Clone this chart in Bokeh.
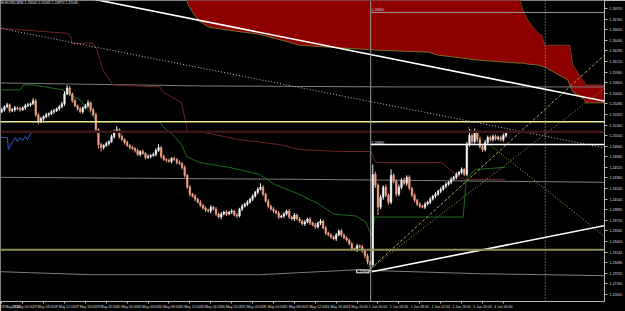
from bokeh.plotting import figure
from bokeh.models import Range1d, FixedTicker, Label, Span, PrintfTickFormatter, ColumnDataSource
from bokeh.embed import file_html
from bokeh.resources import INLINE

symbol = "EURUSD,M30"
first_open = 1.25360
closes = [
    1.25390, 1.25435, 1.25465, 1.25375, 1.25390, 1.25420, 1.25405, 1.25390, 1.25420, 1.25450,
    1.25465, 1.25480, 1.25525, 1.25315, 1.25210, 1.25255, 1.25285, 1.25315, 1.25330, 1.25360,
    1.25375, 1.25405, 1.25435, 1.25480, 1.25630, 1.25720, 1.25630, 1.25525, 1.25450, 1.25405,
    1.25360, 1.25420, 1.25450, 1.25495, 1.25390, 1.25315, 1.25090, 1.24865, 1.24820, 1.24850,
    1.24880, 1.24910, 1.24985, 1.25060, 1.25090, 1.24985, 1.24940, 1.24895, 1.24850, 1.24820,
    1.24805, 1.24775, 1.24715, 1.24760, 1.24730, 1.24670, 1.24685, 1.24700, 1.24715, 1.24775,
    1.24820, 1.24685, 1.24640, 1.24625, 1.24610, 1.24655, 1.24640, 1.24595, 1.24580, 1.24520,
    1.24400, 1.24220, 1.24115, 1.24085, 1.24040, 1.23995, 1.23950, 1.23905, 1.23875, 1.23860,
    1.23920, 1.23890, 1.23815, 1.23770, 1.23815, 1.23845, 1.23815, 1.23845, 1.23860, 1.23800,
    1.23785, 1.23890, 1.23935, 1.23965, 1.23995, 1.24040, 1.24085, 1.24145, 1.24190, 1.24220,
    1.24115, 1.24010, 1.23935, 1.23890, 1.23860, 1.23830, 1.23770, 1.23785, 1.23815, 1.23860,
    1.23770, 1.23740, 1.23800, 1.23740, 1.23710, 1.23665, 1.23695, 1.23740, 1.23680, 1.23650,
    1.23620, 1.23680, 1.23710, 1.23605, 1.23530, 1.23500, 1.23470, 1.23440, 1.23500, 1.23560,
    1.23500, 1.23455, 1.23425, 1.23365, 1.23290, 1.23275, 1.23335, 1.23320, 1.23260, 1.23185,
    1.23095, 1.23050, 1.24415, 1.24250, 1.23920, 1.24070, 1.24220, 1.24100, 1.23995, 1.24400,
    1.24310, 1.24115, 1.24220, 1.24325, 1.24280, 1.24370, 1.24205, 1.24100, 1.24025, 1.23965,
    1.23935, 1.23920, 1.23965, 1.23995, 1.24040, 1.24085, 1.24115, 1.24160, 1.24190, 1.24235,
    1.24265, 1.24295, 1.24340, 1.24370, 1.24415, 1.24445, 1.24490, 1.24415, 1.24865, 1.25000,
    1.24910, 1.25045, 1.24940, 1.24835, 1.24790, 1.24895, 1.24970, 1.24940, 1.24985, 1.24955,
    1.24970, 1.24940, 1.25000, 1.25045,
]
wick_up_pips = [
    3, 2, 3, 2, 3, 3, 2, 3, 2, 3,
    3, 2, 4, 3, 2, 3, 2, 3, 2, 3,
    3, 2, 3, 3, 4, 4, 3, 2, 3, 2,
    3, 2, 3, 4, 2, 3, 3, 2, 3, 2,
    3, 2, 3, 3, 5, 2, 3, 2, 3, 2,
    3, 2, 3, 2, 3, 2, 3, 2, 3, 3,
    5, 2, 3, 2, 3, 2, 3, 2, 3, 2,
    3, 2, 3, 2, 3, 2, 3, 2, 3, 2,
    3, 2, 3, 2, 3, 2, 3, 2, 3, 2,
    3, 2, 3, 2, 3, 2, 3, 2, 3, 6,
    3, 2, 3, 2, 3, 2, 3, 2, 3, 2,
    3, 2, 3, 2, 3, 2, 3, 2, 3, 2,
    3, 2, 3, 2, 3, 2, 3, 2, 3, 2,
    3, 2, 3, 2, 3, 2, 3, 2, 3, 2,
    3, 2, 15, 4, 3, 4, 3, 4, 3, 9,
    3, 3, 4, 3, 4, 3, 3, 2, 3, 2,
    3, 2, 3, 2, 3, 2, 3, 2, 3, 2,
    3, 2, 3, 2, 3, 2, 3, 2, 4, 10,
    3, 6, 3, 4, 3, 4, 3, 3, 3, 3,
    3, 3, 3, 2,
]
wick_down_pips = [
    2, 3, 2, 3, 2, 3, 2, 3, 2, 3,
    2, 3, 2, 3, 4, 2, 3, 2, 3, 2,
    3, 2, 3, 2, 3, 2, 3, 3, 2, 3,
    2, 3, 2, 3, 3, 2, 3, 6, 6, 3,
    2, 3, 2, 3, 2, 3, 2, 3, 2, 3,
    2, 3, 2, 3, 2, 3, 2, 3, 2, 3,
    2, 3, 2, 3, 2, 3, 2, 3, 2, 3,
    3, 2, 3, 2, 3, 2, 3, 2, 3, 2,
    3, 2, 3, 2, 3, 2, 3, 2, 3, 2,
    3, 2, 3, 2, 3, 2, 3, 2, 3, 2,
    3, 2, 3, 2, 3, 2, 3, 2, 3, 2,
    3, 2, 3, 2, 3, 2, 3, 2, 3, 2,
    3, 2, 3, 2, 3, 2, 3, 2, 3, 2,
    3, 2, 3, 2, 3, 2, 3, 2, 3, 4,
    4, 10, 3, 4, 12, 3, 4, 3, 4, 3,
    3, 4, 3, 3, 3, 4, 3, 3, 3, 3,
    3, 2, 3, 2, 3, 2, 3, 2, 3, 2,
    3, 2, 3, 2, 3, 2, 3, 3, 3, 3,
    4, 3, 4, 3, 4, 3, 3, 3, 3, 3,
    3, 3, 3, 3,
]

time_tick_bars = [0, 8, 16, 24, 32, 40, 48, 56, 64, 72, 80, 88, 96, 104, 112, 120,
                  128, 136, 144, 152, 160, 168, 176, 184, 192]
time_tick_labels = ["29 May 2012", "29 May 04:00", "29 May 08:00", "29 May 12:00", "29 May 16:00",
                    "29 May 20:00", "30 May 00:00", "30 May 04:00", "30 May 08:00", "30 May 12:00",
                    "30 May 16:00", "30 May 20:00", "31 May 00:00", "31 May 04:00", "31 May 08:00",
                    "31 May 12:00", "31 May 16:00", "31 May 20:00", "1 Jun 00:00", "1 Jun 04:00",
                    "1 Jun 08:00", "1 Jun 12:00", "1 Jun 16:00", "1 Jun 20:00", "4 Jun 00:00"]
price_ticks = [1.26920, 1.26760, 1.26600, 1.26440, 1.26280, 1.26120, 1.25960, 1.25800,
               1.25640, 1.25480, 1.25320, 1.25160, 1.25000, 1.24840, 1.24680, 1.24520,
               1.24360, 1.24200, 1.24040, 1.23880, 1.23720, 1.23560, 1.23400, 1.23240,
               1.23080, 1.22920, 1.22760, 1.22600]

# Ichimoku cloud (shifted forward)
cloud_x = [70.4, 71.1, 72.6, 74.2, 75.7, 79.5, 87.1, 98.6, 110.0, 113.8, 125.2, 144.3, 163.3, 167.1,
           182.4, 197.6, 199.5, 201.4, 205.2, 206.7, 207.9, 216.7, 217.4, 218.6, 223.1, 223.5, 230.7]
cloud_top = [1.27160, 1.27160, 1.27160, 1.27160, 1.27160, 1.27160, 1.27160, 1.27160, 1.27160,
             1.27160, 1.27160, 1.27160, 1.27160, 1.27160, 1.27160, 1.27160, 1.26890, 1.26740,
             1.26545, 1.26515, 1.26365, 1.26365, 1.26365, 1.26065, 1.25795, 1.25765, 1.25765]
cloud_bottom = [1.27160, 1.26995, 1.26890, 1.26800, 1.26725, 1.26635, 1.26590, 1.26530, 1.26410,
                1.26365, 1.26335, 1.26290, 1.26260, 1.26215, 1.26140, 1.26095, 1.26095, 1.26080,
                1.26065, 1.26050, 1.26035, 1.25840, 1.25765, 1.25660, 1.25540, 1.25495, 1.25495]

kijun_x = [-0.5, 25.0, 26.2, 26.9, 34.9, 36.5, 37.6, 38.7, 42.6, 60.5, 61.6, 68.8, 71.1, 75.7,
           90.9, 106.2, 113.8, 129.0, 141.2, 143.1, 168.3, 174.7, 177.4, 185.0, 192.7]
kijun_y = [1.26620, 1.26545, 1.26515, 1.26395, 1.26395, 1.26290, 1.26140, 1.25990, 1.25765,
           1.25735, 1.25660, 1.25495, 1.25060, 1.25060, 1.24940, 1.24865, 1.24790, 1.24760,
           1.24760, 1.24595, 1.24595, 1.24385, 1.24340, 1.24340, 1.24340]

tenkan_x = [-0.5, 7.1, 8.3, 12.1, 23.5, 24.3, 30.0, 36.5, 60.5, 61.6, 65.4, 68.8, 70.7, 75.7,
            87.1, 98.6, 104.3, 113.8, 121.4, 127.1, 135.5, 139.3, 141.6, 142.7, 176.6, 177.8,
            181.2, 192.7]
tenkan_y = [1.25690, 1.25690, 1.25765, 1.25765, 1.25690, 1.25645, 1.25540, 1.25210, 1.25210,
            1.25135, 1.25015, 1.24865, 1.24685, 1.24595, 1.24520, 1.24415, 1.24265, 1.24115,
            1.23965, 1.23815, 1.23785, 1.23695, 1.23485, 1.23770, 1.23770, 1.24340, 1.24490,
            1.24520]

chikou_x = [-0.5, 2.2, 2.5, 4.1, 5.2, 6.0, 7.1, 7.9, 9.0, 9.8, 10.9, 11.7]
chikou_y = [1.24970, 1.24970, 1.24790, 1.24910, 1.24970, 1.24910, 1.24970, 1.24925, 1.24985,
            1.24940, 1.25015, 1.25060]

bb_upper_x = [-0.5, 75.7, 151.9, 230.7]
bb_upper_y = [1.25795, 1.25750, 1.25735, 1.25735]
bb_mid_x = [-0.5, 113.8, 230.7]
bb_mid_y = [1.24370, 1.24340, 1.24295]
bb_lower_x = [-0.5, 10.9, 33.8, 98.6, 113.8, 136.7, 144.3, 182.4, 230.7]
bb_lower_y = [1.22945, 1.22930, 1.22900, 1.22900, 1.22930, 1.22975, 1.22960, 1.22915, 1.22885]

level_pale = 1.25210
level_maroon = 1.25060
level_olive = 1.23275
cross_bar = 141.2
cross_price_top = 1.26860
cross_price_mid = 1.24865
vline_dotted_bar = 208.0
cross_time_label = "31 May 22:30"

trend_white_a = ([33.8, 231.9], [1.27070, 1.25510])
trend_white_b = ([141.6, 231.9], [1.22945, 1.23650])
trend_dotted = ([-0.5, 231.9], [1.26620, 1.24805])
fan_a = ([141.2, 231.9], [1.22990, 1.26260])
fan_b = ([141.2, 231.9], [1.22990, 1.25750])
fan_c = ([178.6, 231.9], [1.25120, 1.23440])

# ---------------------------------------------------------------
n = len(closes)
bars = list(range(n))
opens = [first_open] + closes[:-1]
highs = [max(o, c) + u * 0.0001 for o, c, u in zip(opens, closes, wick_up_pips)]
lows = [min(o, c) - d * 0.0001 for o, c, d in zip(opens, closes, wick_down_pips)]
bull = "#f2f2f2"
bear = "#f0a088"
colors = [bull if c >= o else bear for o, c in zip(opens, closes)]
src = ColumnDataSource(dict(x=bars, o=opens, c=closes, h=highs, l=lows, col=colors))

p = figure(width=625, height=311, x_range=Range1d(-0.495, 230.7), y_range=Range1d(1.22495, 1.27040),
           y_axis_location="right", output_backend="svg", toolbar_location=None,
           background_fill_color="black", border_fill_color="black", outline_line_color=None,
           min_border=0)
p.xgrid.visible = False
p.ygrid.visible = False

axis_col = "#b8b8b8"
for ax in (p.xaxis[0], p.yaxis[0]):
    ax.axis_line_color = axis_col
    ax.major_tick_line_color = axis_col
    ax.minor_tick_line_color = None
    ax.major_tick_in = 0
    ax.major_label_text_font_size = "3.5px"
    ax.major_label_text_color = "#dcdcdc"
    ax.major_label_text_font = "Liberation Sans"
p.xaxis.ticker = FixedTicker(ticks=time_tick_bars)
p.xaxis.major_label_overrides = {b: t for b, t in zip(time_tick_bars, time_tick_labels)}
p.xaxis.major_label_text_align = "left"
p.xaxis.major_tick_out = 2
p.xaxis.major_label_standoff = 1
p.yaxis.ticker = FixedTicker(ticks=price_ticks)
p.yaxis.formatter = PrintfTickFormatter(format="%.5f")
p.yaxis.major_tick_out = 3
p.yaxis.major_label_standoff = 2

# cloud
p.varea(x=cloud_x, y1=cloud_bottom, y2=cloud_top, fill_color="#8e0000")
p.line(cloud_x, cloud_bottom, line_color="#7a6a28", line_width=1)
p.line(cloud_x, cloud_top, line_color="#6a3a20", line_width=1)

# bands
for xs, ys in ((bb_upper_x, bb_upper_y), (bb_mid_x, bb_mid_y), (bb_lower_x, bb_lower_y)):
    p.line(xs, ys, line_color="#7c7c7c", line_width=1)

# levels
p.add_layout(Span(location=level_maroon, dimension="width", line_color="#3e1519", line_width=2.5))
p.add_layout(Span(location=level_olive, dimension="width", line_color="#8e8e52", line_width=2))
p.add_layout(Span(location=level_pale, dimension="width", line_color="#ecec9c", line_width=1.5))

# ichimoku lines
p.line(kijun_x, kijun_y, line_color="#6e2226", line_width=1)
p.line(tenkan_x, tenkan_y, line_color="#1f6a1f", line_width=1)
p.line(chikou_x, chikou_y, line_color="#3a58c8", line_width=1)

# vertical lines
p.add_layout(Span(location=cross_bar, dimension="height", line_color="#9a9a9a", line_width=1))
p.add_layout(Span(location=vline_dotted_bar, dimension="height", line_color="#b8b890",
                  line_width=1, line_dash="1 2"))
p.segment(x0=cross_bar, x1=231.9, y0=cross_price_top, y1=cross_price_top, line_color="#9a9a9a", line_width=1)

# candles
p.segment(x0="x", x1="x", y0="l", y1="h", line_color="col", line_width=1, source=src)
p.vbar(x="x", width=0.62, bottom="o", top="c", fill_color="col", line_color="col", line_width=0.5, source=src)

# trend lines
p.line(*trend_dotted, line_color="#bdbdbd", line_width=1, line_dash="1 2")
p.line(*fan_a, line_color="#a8a858", line_width=1, line_dash="3 2")
p.line(*fan_b, line_color="#a8a858", line_width=1, line_dash="1 2")
p.line(*fan_c, line_color="#b0b060", line_width=1, line_dash="1 2")
p.line(*trend_white_a, line_color="white", line_width=1.6)
p.line(*trend_white_b, line_color="white", line_width=1.6)
p.segment(x0=cross_bar, x1=231.9, y0=cross_price_mid, y1=cross_price_mid, line_color="white", line_width=1.4)

small = "3.5px"
p.add_layout(Label(x=-0.3, y=1.27030, text=f"{symbol}  {opens[-1]:.5f} {highs[-1]:.5f} {lows[-1]:.5f} {closes[-1]:.5f}",
                   text_font_size=small, text_color="#e0e0e0", text_baseline="top", text_font="Liberation Sans"))
p.add_layout(Label(x=cross_bar + 0.3, y=cross_price_top, text=f"{cross_price_top:.5f}", y_offset=1,
                   text_font_size=small, text_color="#c8c8c8", text_baseline="bottom", text_font="Liberation Sans"))
p.add_layout(Label(x=cross_bar + 0.3, y=cross_price_mid, text=f"{cross_price_mid:.5f}", y_offset=1,
                   text_font_size=small, text_color="#e8e8e8", text_baseline="bottom", text_font="Liberation Sans"))
low_i = min(range(n), key=lambda i: lows[i])
p.add_layout(Label(x=low_i - 0.4, y=lows[low_i], text=f"{lows[low_i]:.5f}", text_align="right",
                   text_baseline="middle", text_font_size=small, text_color="white",
                   border_line_color="#d0d0d0", background_fill_color="black", text_font="Liberation Sans"))
p.add_layout(Label(x=cross_bar, y=1.22495, text=cross_time_label, text_align="center", text_baseline="top",
                   y_offset=-1, text_font_size=small, text_color="black", background_fill_color="white",
                   text_font="Liberation Sans"))
p.add_layout(Label(x=230.7, y=closes[-1], text=f"{closes[-1]:.5f}", text_align="left", text_baseline="middle",
                   x_offset=1, text_font_size=small, text_color="white", background_fill_color="#e0288a",
                   text_font="Liberation Sans"))

open("out.html", "w").write(file_html(p, INLINE))
